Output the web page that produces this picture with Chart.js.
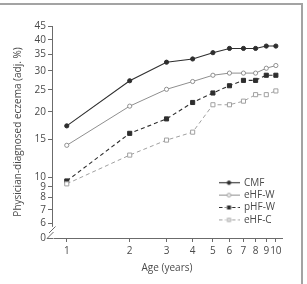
<!DOCTYPE html>
<html><head><meta charset="utf-8">
<script src="https://cdn.jsdelivr.net/npm/chart.js@4.4.1/dist/chart.umd.min.js"></script>
<style>
html,body{margin:0;padding:0;background:#fff;overflow:hidden}
#wrap{position:relative;width:307px;height:284px;overflow:hidden}
#frame{position:absolute;left:-2px;top:3px;width:305px;height:300px;border-top:2px solid #a3a3a3;border-right:2px solid #a3a3a3;box-sizing:border-box}
canvas{position:absolute;left:0;top:0}
</style></head><body>
<div id="wrap"><div id="frame"></div><canvas id="c" width="307" height="284"></canvas></div>
<script>
// ---- data ----
const AGES   = [1, 2, 3, 4, 5, 6, 7, 8, 9, 10];
const CMF    = [17.3, 27.3, 32.6, 33.6, 35.6, 37.0, 37.0, 37.0, 37.8, 37.8];
const EHF_W  = [14.1, 21.2, 25.1, 27.1, 28.8, 29.4, 29.4, 29.4, 30.8, 31.6];
const PHF_W  = [9.6, 16.0, 18.6, 22.0, 24.2, 26.0, 27.4, 27.4, 28.8, 28.8];
const EHF_C  = [9.3, 12.7, 14.9, 16.2, 21.5, 21.5, 22.3, 23.8, 23.8, 24.7];
const SERIES_NAMES = ['CMF', 'eHF-W', 'pHF-W', 'eHF-C'];
const Y_TICKS = [0, 6, 7, 8, 9, 10, 15, 20, 25, 30, 35, 40, 45];
const X_TICKS = [1, 2, 3, 4, 5, 6, 7, 8, 9, 10];
const Y_TITLE = 'Physician-diagnosed eczema (adj. %)';
const X_TITLE = 'Age (years)';

const FONT = "'Open Sans', 'Noto Sans', sans-serif";
const AXIS = '#6b6b6b';
const TXT = '#4a4a4a';

// complementary log-log y axis with a break below 6
const BREAK_LOW = 6, BREAK_GAP = 0.1655;
const cll = v => Math.log(-Math.log(1 - v / 100));
const tr = v => v >= BREAK_LOW ? cll(v) : cll(BREAK_LOW) - BREAK_GAP * (BREAK_LOW - v) / BREAK_LOW;
const itr = t => t >= cll(BREAK_LOW) ? 100 * (1 - Math.exp(-Math.exp(t)))
                                     : BREAK_LOW - (cll(BREAK_LOW) - t) / BREAK_GAP * BREAK_LOW;

class CLogLogScale extends Chart.LinearScale {
  determineDataLimits() { this.min = Y_TICKS[0]; this.max = Y_TICKS[Y_TICKS.length - 1]; }
  buildTicks() { return Y_TICKS.map(v => ({ value: v })); }
  configure() { super.configure(); this._t0 = tr(this.min); this._t1 = tr(this.max); }
  getPixelForValue(v) { return this.getPixelForDecimal((tr(v) - this._t0) / (this._t1 - this._t0)); }
  getValueForPixel(p) { return itr(this._t0 + this.getDecimalForPixel(p) * (this._t1 - this._t0)); }
}
CLogLogScale.id = 'cloglog';
CLogLogScale.defaults = Chart.LinearScale.defaults;
Chart.register(CLogLogScale);

const STYLES = [
  { color: '#2e2e2e', width: 1.1, dash: [],     point: 'circle', r: 2.1, fill: '#2e2e2e' },
  { color: '#8f8f8f', width: 1,   dash: [],     point: 'circle', r: 2.1, fill: '#ffffff' },
  { color: '#2e2e2e', width: 1.1, dash: [4, 3], point: 'rect',   r: 2.9, fill: '#2e2e2e' },
  { color: '#a0a0a0', width: 1,   dash: [4, 3], point: 'rect',   r: 2.9, fill: '#ffffff' }
];
const SERIES = [CMF, EHF_W, PHF_W, EHF_C];

// legend sample images: line + marker
const legendImgs = STYLES.map(s => {
  const c = document.createElement('canvas');
  c.width = 21; c.height = 9;
  const g = c.getContext('2d');
  g.strokeStyle = s.color; g.lineWidth = s.width; g.setLineDash(s.dash.length ? [4, 2.5] : []);
  g.beginPath(); g.moveTo(0, 4.5); g.lineTo(21, 4.5); g.stroke();
  g.setLineDash([]);
  g.fillStyle = s.fill; g.lineWidth = 1;
  if (s.point === 'circle') {
    g.beginPath(); g.arc(10.5, 4.5, 1.8, 0, Math.PI * 2); g.fill(); g.stroke();
  } else {
    g.fillStyle = '#fff'; g.fillRect(7.5, 1.5, 6, 6);
    g.fillStyle = s.fill; g.fillRect(9, 3, 3, 3); g.strokeRect(9, 3, 3, 3);
  }
  return c;
});

const datasets = SERIES.map((vals, i) => ({
  label: SERIES_NAMES[i],
  data: vals.map((v, j) => ({ x: AGES[j], y: v })),
  borderColor: STYLES[i].color,
  borderWidth: STYLES[i].width,
  borderDash: STYLES[i].dash,
  pointStyle: STYLES[i].point,
  pointRadius: STYLES[i].r,
  pointBackgroundColor: STYLES[i].fill,
  pointBorderColor: STYLES[i].color,
  pointBorderWidth: 1,
  fill: false,
  tension: 0
})).reverse();

const axisBreak = {
  id: 'axisBreak',
  afterLayout(chart) {
    const lg = chart.legend;
    lg.left = 216.6; lg.top = 175.3; lg.right = 307; lg.bottom = 284;
    lg.width = lg.right - lg.left; lg.height = lg.bottom - lg.top;
  },
  afterDraw(chart) {
    const { ctx } = chart;
    const yS = chart.scales.y;
    const x0 = chart.chartArea.left;
    const y6 = yS.getPixelForValue(BREAK_LOW), y0 = yS.getPixelForValue(0);
    ctx.save();
    ctx.fillStyle = '#fff';
    ctx.fillRect(x0 - 5, y6 + 3, 7, y0 - y6 - 2.5);
    ctx.strokeStyle = AXIS; ctx.lineWidth = 1;
    ctx.beginPath();
    ctx.moveTo(x0 + 0.5, y6 - 1); ctx.lineTo(x0 + 0.5, y6 + 3);
    ctx.moveTo(x0 - 5, y0 + 0.5); ctx.lineTo(x0 + 1, y0 + 0.5);
    ctx.moveTo(x0 - 5, y0 + 0.5); ctx.lineTo(x0 + 1.5, y0 - 6);
    ctx.moveTo(x0 - 3, y0 - 5); ctx.lineTo(x0 + 3.5, y0 - 11.5);
    ctx.stroke();
    ctx.restore();
  }
};

new Chart(document.getElementById('c'), {
  type: 'line',
  data: { datasets },
  options: {
    responsive: false,
    devicePixelRatio: 1,
    animation: false,
    layout: { padding: { left: 0, top: 26, right: 25, bottom: 0 } },
    plugins: {
      tooltip: { enabled: false },
      legend: {
        position: 'chartArea',
        align: 'start',
        reverse: true,
        labels: {
          usePointStyle: true,
          pointStyleWidth: 20,
          boxHeight: 10,
          padding: 2.4,
          color: TXT,
          font: { family: FONT, size: 10 },
          generateLabels(chart) {
            const items = Chart.defaults.plugins.legend.labels.generateLabels(chart);
            items.forEach(it => { it.pointStyle = legendImgs[SERIES_NAMES.indexOf(it.text)]; });
            return items;
          }
        }
      }
    },
    scales: {
      x: {
        type: 'logarithmic',
        min: 0.85, max: 10.7,
        afterBuildTicks(s) { s.ticks = X_TICKS.map(v => ({ value: v })); },
        afterFit(s) { s.height = 46; },
        grid: { display: true, drawOnChartArea: false, drawTicks: true, tickLength: 4, color: AXIS },
        border: { display: true, color: AXIS, width: 1 },
        ticks: { autoSkip: false, maxRotation: 0, minRotation: 0, padding: 3, color: TXT,
                 font: { family: FONT, size: 10 }, callback: v => String(v) },
        title: { display: true, text: X_TITLE, color: TXT, font: { family: FONT, size: 10 },
                 padding: { top: 0, bottom: 10 } }
      },
      y: {
        type: 'cloglog',
        afterFit(s) { s.width = 52; },
        grid: { display: true, drawOnChartArea: false, drawTicks: true, tickLength: 4, color: AXIS },
        border: { display: true, color: AXIS, width: 1 },
        ticks: { autoSkip: false, padding: 2, color: TXT, font: { family: FONT, size: 10 },
                 callback: v => String(v) },
        title: { display: true, text: Y_TITLE, color: TXT, font: { family: FONT, size: 10 },
                 padding: { top: 12, bottom: 0 } }
      }
    }
  },
  plugins: [axisBreak]
});
</script>
</body></html>
